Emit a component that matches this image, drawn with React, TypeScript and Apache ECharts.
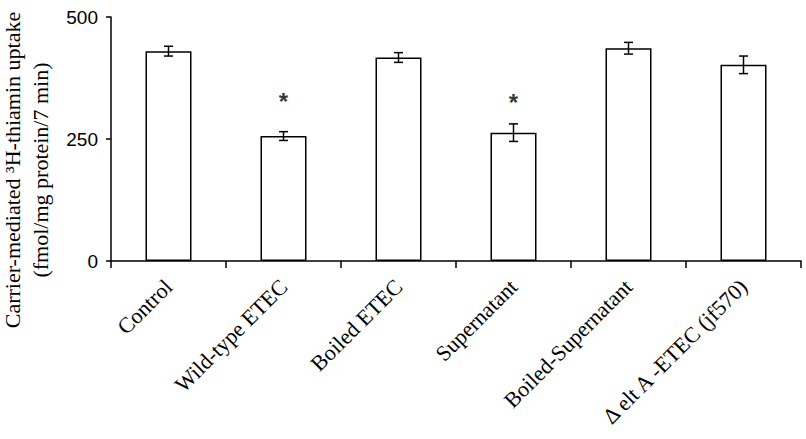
import React, { useEffect, useRef } from "react";
import * as echarts from "echarts";

const categories = [
  "Control",
  "Wild-type ETEC",
  "Boiled ETEC",
  "Supernatant",
  "Boiled-Supernatant",
  "\u0394 elt A -ETEC (jf570)",
];
const uptakeValues = [430, 256, 417, 263, 436, 402];
const uptakeErrors = [10, 9, 10, 18, 12, 18];
const asteriskLevels = [null, 336, null, 333, null, null];
const yTicks = [0, 250, 500];

const SERIF = "'Liberation Serif', 'Times New Roman', serif";
const SANS = "'Liberation Sans', Arial, sans-serif";

export default function App() {
  const ref = useRef<HTMLDivElement>(null);
  useEffect(() => {
    if (!ref.current) return;
    const chart = echarts.init(ref.current, null, { renderer: "svg" });
    const errData = uptakeValues.map((v, i) => [i, v - uptakeErrors[i], v + uptakeErrors[i]]);
    chart.setOption({
      animation: false,
      grid: { left: 111, right: 5, top: 17, bottom: 178, containLabel: false },
      xAxis: {
        type: "category",
        data: categories,
        axisLine: { show: true, lineStyle: { color: "#000", width: 1.5 } },
        axisTick: { show: true, alignWithLabel: false, length: 7, lineStyle: { color: "#000", width: 1.5 } },
        axisLabel: {
          interval: 0,
          rotate: 45,
          color: "#000",
          fontFamily: SERIF,
          fontSize: 22,
          margin: 22,
          align: "right",
          verticalAlign: "middle",
        },
      },
      yAxis: {
        type: "value",
        min: yTicks[0],
        max: yTicks[yTicks.length - 1],
        interval: 250,
        axisLine: { show: true, lineStyle: { color: "#000", width: 1.5 } },
        axisTick: { show: true, length: 5, lineStyle: { color: "#000", width: 1.5 } },
        splitLine: { show: false },
        axisLabel: {
          color: "#000",
          fontFamily: SANS,
          fontSize: 19,
          margin: 13,
        },
      },
      graphic: [
        {
          type: "text",
          x: 26,
          y: 170,
          rotation: Math.PI / 2,
          style: {
            text: "Carrier-mediated \u00B3H-thiamin uptake\n(fmol/mg protein/7 min)",
            fontFamily: SERIF,
            fontSize: 22,
            fill: "#000",
            align: "center",
            verticalAlign: "middle",
            lineHeight: 28,
          },
        },
      ],
      series: [
        {
          type: "bar",
          data: uptakeValues,
          barCategoryGap: "60%",
          itemStyle: { color: "#fff", borderColor: "#000", borderWidth: 1.5 },
          z: 2,
        },
        {
          type: "custom",
          data: errData,
          z: 3,
          renderItem: (params: any, api: any) => {
            const x = api.value(0);
            const lo = api.coord([x, api.value(1)]);
            const hi = api.coord([x, api.value(2)]);
            const hw = 4.5;
            const st = { stroke: "#000", lineWidth: 1.5 };
            return {
              type: "group",
              children: [
                { type: "line", shape: { x1: lo[0], y1: lo[1], x2: hi[0], y2: hi[1] }, style: st },
                { type: "line", shape: { x1: lo[0] - hw, y1: lo[1], x2: lo[0] + hw, y2: lo[1] }, style: st },
                { type: "line", shape: { x1: hi[0] - hw, y1: hi[1], x2: hi[0] + hw, y2: hi[1] }, style: st },
              ],
            };
          },
        },
        {
          type: "scatter",
          data: asteriskLevels.map((v) => (v === null ? "-" : v)),
          symbolSize: 0,
          z: 4,
          label: {
            show: true,
            position: "inside",
            formatter: "*",
            color: "#000",
            fontFamily: SANS,
            fontSize: 24,
            fontWeight: "bold",
            offset: [0, 4],
          },
        },
      ],
    });
    return () => chart.dispose();
  }, []);
  return (
    <div
      ref={ref}
      style={{ position: "absolute", left: 0, top: 0, width: 806, height: 439 }}
    />
  );
}
